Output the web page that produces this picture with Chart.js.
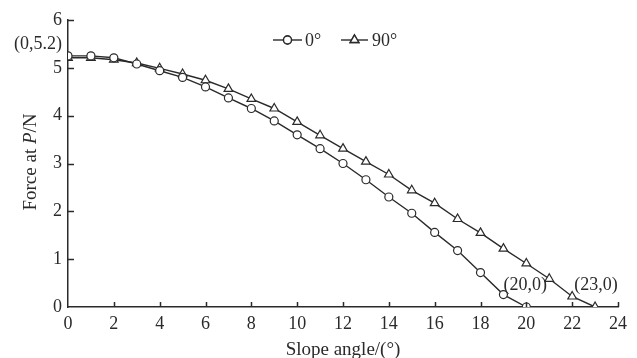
<!DOCTYPE html>
<html>
<head>
<meta charset="utf-8">
<script src="https://cdn.jsdelivr.net/npm/chart.js@4.4.1/dist/chart.umd.min.js"></script>
<style>
  html, body { margin: 0; padding: 0; background: #fff; }
  #wrap { width: 637px; height: 358px; position: relative; }
</style>
</head>
<body>
<div id="wrap"><canvas id="chart"></canvas></div>
<script>
const SLOPE_ANGLES = [0, 1, 2, 3, 4, 5, 6, 7, 8, 9, 10, 11, 12, 13, 14, 15, 16, 17, 18, 19, 20, 21, 22, 23];
const FORCE_0 = [5.25, 5.25, 5.21, 5.08, 4.94, 4.80, 4.60, 4.37, 4.15, 3.89, 3.60, 3.31, 3.00, 2.66, 2.30, 1.96, 1.56, 1.18, 0.72, 0.26, 0];
const FORCE_90 = [5.21, 5.21, 5.17, 5.10, 4.99, 4.87, 4.74, 4.56, 4.35, 4.15, 3.87, 3.59, 3.31, 3.04, 2.77, 2.44, 2.17, 1.84, 1.55, 1.22, 0.91, 0.59, 0.22, 0];
const SERIES_NAMES = ["0°", "90°"];
const X_TICKS = [0, 2, 4, 6, 8, 10, 12, 14, 16, 18, 20, 22, 24];
const Y_TICKS = [0, 1, 2, 3, 4, 5, 6];
const NOTES = [
  { text: "(0,5.2)", x: 0, y: 5.2 },
  { text: "(20,0)", x: 20, y: 0 },
  { text: "(23,0)", x: 23, y: 0 },
];

const INK = "#2a2a2a";
const FONT = "'Liberation Serif', 'Times New Roman', serif";

function pts(ys) {
  return ys.map((y, i) => ({ x: SLOPE_ANGLES[i], y }));
}

const extras = {
  id: "extras",
  afterDraw(chart) {
    const { ctx, chartArea: a, scales: { x, y } } = chart;
    ctx.save();
    ctx.strokeStyle = INK;
    ctx.lineWidth = 1.5;
    // inward tick marks
    for (const v of X_TICKS) {
      if (v === 0) continue;
      const px = Math.round(x.getPixelForValue(v)) + 0.5;
      ctx.beginPath();
      ctx.moveTo(px, a.bottom);
      ctx.lineTo(px, a.bottom - 5);
      ctx.stroke();
    }
    for (const v of Y_TICKS) {
      if (v === 0) continue;
      const py = Math.round(y.getPixelForValue(v)) + 0.5;
      ctx.beginPath();
      ctx.moveTo(a.left, py);
      ctx.lineTo(a.left + 6, py);
      ctx.stroke();
    }

    // point annotations
    ctx.fillStyle = INK;
    ctx.font = "18px " + FONT;
    ctx.textBaseline = "middle";
    NOTES.forEach((n, i) => {
      const px = x.getPixelForValue(n.x);
      const py = y.getPixelForValue(n.y);
      if (i === 0) {
        ctx.textAlign = "right";
        ctx.fillText(n.text, px - 6, py - 14);
      } else {
        ctx.textAlign = "center";
        ctx.fillText(n.text, px - (i === 1 ? 1 : -1), py - 22);
      }
    });

    // legend
    const legendY = 40;
    const items = [
      { x0: 273, x1: 302, tx: 305, ds: chart.data.datasets[0] },
      { x0: 341, x1: 368, tx: 372, ds: chart.data.datasets[1] },
    ];
    ctx.textAlign = "left";
    ctx.font = "18px " + FONT;
    for (const it of items) {
      ctx.strokeStyle = INK;
      ctx.lineWidth = 1.4;
      ctx.beginPath();
      ctx.moveTo(it.x0, legendY);
      ctx.lineTo(it.x1, legendY);
      ctx.stroke();
      Chart.helpers.drawPoint(ctx, {
        pointStyle: it.ds.pointStyle,
        radius: it.ds.pointRadius,
        borderWidth: it.ds.pointBorderWidth,
      }, (it.x0 + it.x1) / 2, legendY);
      ctx.fillStyle = "#fff";
      ctx.strokeStyle = INK;
      ctx.fill();
      ctx.stroke();
      ctx.fillStyle = INK;
      ctx.fillText(it.ds.label, it.tx, legendY + 1);
    }

    // y axis title with italic P
    ctx.translate(31, 162);
    ctx.rotate(-Math.PI / 2);
    const parts = [
      { t: "Force at ", f: "19px " + FONT },
      { t: "P", f: "italic 19px " + FONT },
      { t: "/N", f: "19px " + FONT },
    ];
    let w = 0;
    for (const p of parts) { ctx.font = p.f; w += ctx.measureText(p.t).width; }
    let cx = -w / 2;
    ctx.textAlign = "left";
    for (const p of parts) {
      ctx.font = p.f;
      ctx.fillText(p.t, cx, 0);
      cx += ctx.measureText(p.t).width;
    }
    ctx.restore();
  },
};

new Chart(document.getElementById("chart"), {
  type: "line",
  data: {
    datasets: [
      {
        label: SERIES_NAMES[0],
        data: pts(FORCE_0),
        borderColor: INK,
        borderWidth: 1.4,
        pointStyle: "circle",
        pointRadius: 4,
        pointBorderWidth: 1.2,
        pointBorderColor: INK,
        pointBackgroundColor: "#fff",
        tension: 0,
      },
      {
        label: SERIES_NAMES[1],
        data: pts(FORCE_90),
        borderColor: INK,
        borderWidth: 1.4,
        pointStyle: "triangle",
        pointRadius: 5,
        pointBorderWidth: 1.2,
        pointBorderColor: INK,
        pointBackgroundColor: "#fff",
        tension: 0,
      },
    ],
  },
  options: {
    responsive: true,
    maintainAspectRatio: false,
    animation: false,
    layout: { padding: { top: 20, right: 19, left: 0, bottom: 0 } },
    plugins: { legend: { display: false }, tooltip: { enabled: false } },
    scales: {
      x: {
        type: "linear",
        min: 0,
        max: 24,
        afterBuildTicks: (s) => { s.ticks = X_TICKS.map((v) => ({ value: v })); },
        afterFit: (s) => { s.height = 51; },
        grid: { display: false, drawTicks: false },
        border: { display: true, color: INK, width: 1.5 },
        ticks: { color: INK, padding: 6, font: { family: FONT, size: 18 } },
        title: {
          display: true,
          text: "Slope angle/(°)",
          color: INK,
          padding: { top: 0, bottom: -2 },
          font: { family: FONT, size: 19, lineHeight: 1 },
        },
      },
      y: {
        min: 0,
        max: 6,
        afterBuildTicks: (s) => { s.ticks = Y_TICKS.map((v) => ({ value: v })); },
        afterFit: (s) => { s.width = 68; },
        grid: { display: false, drawTicks: false },
        border: { display: true, color: INK, width: 1.5 },
        ticks: { color: INK, padding: 6, font: { family: FONT, size: 18 } },
      },
    },
  },
  plugins: [extras],
});
</script>
</body>
</html>
